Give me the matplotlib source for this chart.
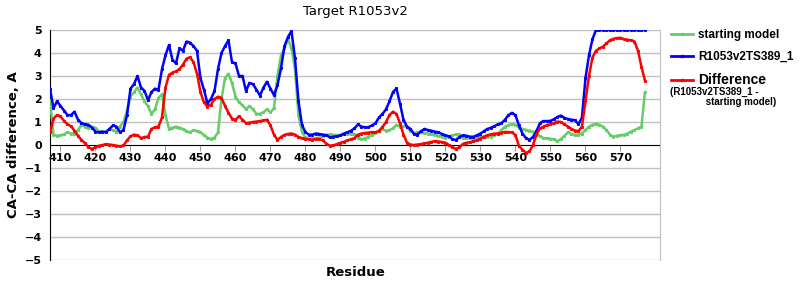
import matplotlib
matplotlib.use("Agg")
import matplotlib.pyplot as plt
from matplotlib.lines import Line2D

residues = list(range(407, 578))

# starting model
start_model = [
    1.96, 0.45, 0.40, 0.42, 0.46, 0.55, 0.50, 0.48, 0.65, 0.87,   # 407-416
    0.80, 0.72, 0.80, 0.75, 0.60, 0.58, 0.60, 0.68, 0.65, 0.58,   # 417-426
    0.80, 1.00, 1.50, 2.10, 2.30, 2.50, 2.20, 1.90, 1.70, 1.35,   # 427-436
    1.55, 2.05, 2.20, 1.30, 0.70, 0.75, 0.80, 0.75, 0.70, 0.60,   # 437-446
    0.55, 0.65, 0.62, 0.55, 0.43, 0.32, 0.26, 0.32, 0.55, 2.00,   # 447-456
    2.90, 3.10, 2.70, 2.10, 1.85, 1.74, 1.55, 1.70, 1.55, 1.35,   # 457-466
    1.35, 1.42, 1.55, 1.42, 1.60, 3.00, 3.90, 4.20, 4.60, 4.20,   # 467-476
    3.30, 1.30, 0.55, 0.33, 0.26, 0.28, 0.30, 0.32, 0.38, 0.43,   # 477-486
    0.46, 0.44, 0.43, 0.43, 0.48, 0.48, 0.46, 0.48, 0.32, 0.26,   # 487-496
    0.28, 0.35, 0.45, 0.52, 0.60, 0.68, 0.62, 0.65, 0.72, 0.87,   # 497-506
    0.80, 0.82, 0.80, 0.60, 0.52, 0.55, 0.58, 0.52, 0.50, 0.46,   # 507-516
    0.44, 0.40, 0.36, 0.32, 0.34, 0.42, 0.46, 0.46, 0.30, 0.30,   # 517-526
    0.30, 0.27, 0.29, 0.34, 0.36, 0.36, 0.36, 0.42, 0.50, 0.65,   # 527-536
    0.80, 0.87, 0.90, 0.88, 0.75, 0.70, 0.66, 0.62, 0.58, 0.50,   # 537-546
    0.38, 0.30, 0.29, 0.27, 0.24, 0.17, 0.26, 0.40, 0.55, 0.48,   # 547-556
    0.43, 0.45, 0.50, 0.65, 0.80, 0.88, 0.92, 0.88, 0.80, 0.65,   # 557-566
    0.45, 0.36, 0.40, 0.43, 0.44, 0.50, 0.58, 0.65, 0.72, 0.80,   # 567-576
    2.30,                                                         # 577
]

# R1053v2TS389_1
model = [
    2.45, 1.60, 1.90, 1.70, 1.50, 1.30, 1.30, 1.45, 1.10, 0.95,
    0.90, 0.88, 0.75, 0.58, 0.55, 0.58, 0.55, 0.70, 0.85, 0.80,
    0.55, 0.65, 1.30, 2.45, 2.65, 3.00, 2.50, 2.35, 1.95, 2.30,
    2.45, 2.40, 3.30, 3.90, 4.35, 3.70, 3.55, 4.20, 4.10, 4.50,
    4.45, 4.30, 4.10, 2.90, 2.40, 1.80, 2.00, 2.35, 3.30, 4.00,
    4.30, 4.55, 3.60, 3.55, 3.00, 3.00, 2.35, 2.70, 2.65, 2.40,
    2.15, 2.50, 2.75, 2.45, 2.17, 2.60, 3.33, 4.30, 4.70, 4.95,
    3.77, 1.90, 0.87, 0.55, 0.45, 0.45, 0.50, 0.48, 0.45, 0.43,
    0.33, 0.36, 0.38, 0.42, 0.50, 0.55, 0.62, 0.72, 0.90, 0.80,
    0.77, 0.78, 0.85, 0.94, 1.20, 1.35, 1.55, 1.90, 2.30, 2.46,
    1.80, 1.10, 0.80, 0.70, 0.48, 0.45, 0.60, 0.70, 0.65, 0.62,
    0.58, 0.55, 0.48, 0.42, 0.38, 0.25, 0.22, 0.35, 0.42, 0.40,
    0.36, 0.36, 0.42, 0.50, 0.60, 0.70, 0.75, 0.82, 0.90, 0.95,
    1.10, 1.30, 1.40, 1.30, 0.85, 0.50, 0.30, 0.22, 0.35, 0.60,
    0.95, 1.04, 1.04, 1.05, 1.12, 1.22, 1.28, 1.18, 1.13, 1.10,
    1.08, 0.90, 1.20, 2.90, 3.90, 4.60, 5.00, 5.00, 5.00, 5.00,
    5.00, 5.00, 5.00, 5.00, 5.00, 5.00, 5.00, 5.00, 5.00, 5.00,
    5.00,
]

# Difference (R1053v2TS389_1 - starting model)
difference = [
    0.55, 1.15, 1.30, 1.25, 1.05, 0.90, 0.82, 0.62, 0.40, 0.22,
    0.08, -0.10, -0.17, -0.10, -0.03, 0.00, 0.04, 0.02, 0.00, -0.03,
    -0.06, -0.02, 0.20, 0.38, 0.45, 0.42, 0.30, 0.35, 0.36, 0.70,
    0.77, 0.80, 1.20, 2.50, 3.05, 3.15, 3.20, 3.30, 3.50, 3.75,
    3.82, 3.60, 3.10, 2.30, 1.85, 1.67, 1.75, 2.00, 2.10, 2.05,
    1.70, 1.40, 1.15, 1.09, 1.25, 1.10, 0.95, 0.97, 1.00, 1.02,
    1.04, 1.07, 1.10, 0.85, 0.45, 0.22, 0.35, 0.44, 0.48, 0.50,
    0.45, 0.35, 0.30, 0.27, 0.24, 0.23, 0.26, 0.26, 0.20, 0.05,
    -0.03, -0.01, 0.04, 0.10, 0.14, 0.20, 0.25, 0.30, 0.45, 0.50,
    0.52, 0.54, 0.56, 0.55, 0.62, 0.78, 1.00, 1.30, 1.45, 1.35,
    0.94, 0.45, 0.10, 0.02, 0.00, 0.02, 0.04, 0.07, 0.10, 0.14,
    0.16, 0.15, 0.13, 0.10, 0.00, -0.10, -0.17, -0.10, 0.05, 0.10,
    0.12, 0.16, 0.20, 0.28, 0.36, 0.43, 0.46, 0.50, 0.50, 0.53,
    0.57, 0.56, 0.55, 0.43, -0.05, -0.20, -0.35, -0.28, 0.00, 0.45,
    0.72, 0.80, 0.86, 0.90, 0.95, 1.02, 1.00, 0.90, 0.80, 0.70,
    0.63, 0.60, 0.80, 1.90, 3.00, 3.80, 4.10, 4.20, 4.28, 4.42,
    4.55, 4.62, 4.65, 4.66, 4.60, 4.58, 4.55, 4.50, 4.10, 3.40,
    2.80,
]

x_ticks = list(range(410, 580, 10))
y_ticks = list(range(-5, 6))

green = "#66CC66"
blue = "#0000FF"
red = "#FF0000"

fig = plt.figure(figsize=(8, 3), dpi=100)
ax = fig.add_axes([0.0625, 0.1333, 0.7625, 0.7667])

ax.set_xlim(407, 581.3)
ax.set_ylim(-5, 5)

for y in y_ticks:
    if y != 0:
        ax.axhline(y, color="#C0C0C0", lw=1, zorder=0)

ax.plot(residues, start_model, color=green, lw=1.8, marker="s", ms=1.2, zorder=3)
ax.plot(residues, model, color=blue, lw=1.8, marker="s", ms=1.2, zorder=4)
ax.plot(residues, difference, color=red, lw=1.8, marker="s", ms=1.2, zorder=5)

ax.spines["top"].set_visible(False)
ax.spines["right"].set_color("#C0C0C0")
ax.spines["left"].set_color("black")
ax.spines["bottom"].set_position(("data", 0))
ax.spines["bottom"].set_color("black")
ax.spines["bottom"].set_zorder(2)

ax.set_xticks(x_ticks)
ax.set_yticks(y_ticks)
ax.tick_params(axis="x", length=4, color="#A0A0A0", labelsize=8, pad=2)
ax.tick_params(axis="y", length=0, labelsize=8, pad=6)
for lab in ax.get_xticklabels() + ax.get_yticklabels():
    lab.set_fontweight("bold")

ax.set_title("Target R1053v2", fontsize=9.5, pad=11)
ax.set_ylabel("CA-CA difference, A", fontsize=9.5, fontweight="bold", labelpad=3)
fig.text(0.444, 0.09, "Residue", ha="center", va="center", fontsize=9.5, fontweight="bold")

handles = [
    Line2D([0], [0], color=green, lw=2, marker="s", ms=1.5),
    Line2D([0], [0], color=blue, lw=2, marker="s", ms=1.5),
    Line2D([0], [0], color=red, lw=2, marker="s", ms=1.5),
]
leg = ax.legend(handles, ["starting model", "R1053v2TS389_1", "Difference"],
                loc="upper left", bbox_to_anchor=(1.01, 1.025), frameon=False,
                prop={"family": "Liberation Sans", "size": 8.5, "weight": "bold"},
                handlelength=1.9, handletextpad=0.4, labelspacing=0.85,
                borderaxespad=0)
leg.get_texts()[2].set_fontsize(10)
fig.text(0.838, 0.71, "(R1053v2TS389_1 -\n             starting model)", fontsize=7,
         family="Liberation Sans", fontweight="bold", va="top", ha="left",
         linespacing=1.0)

fig.savefig("out.png", dpi=100)
